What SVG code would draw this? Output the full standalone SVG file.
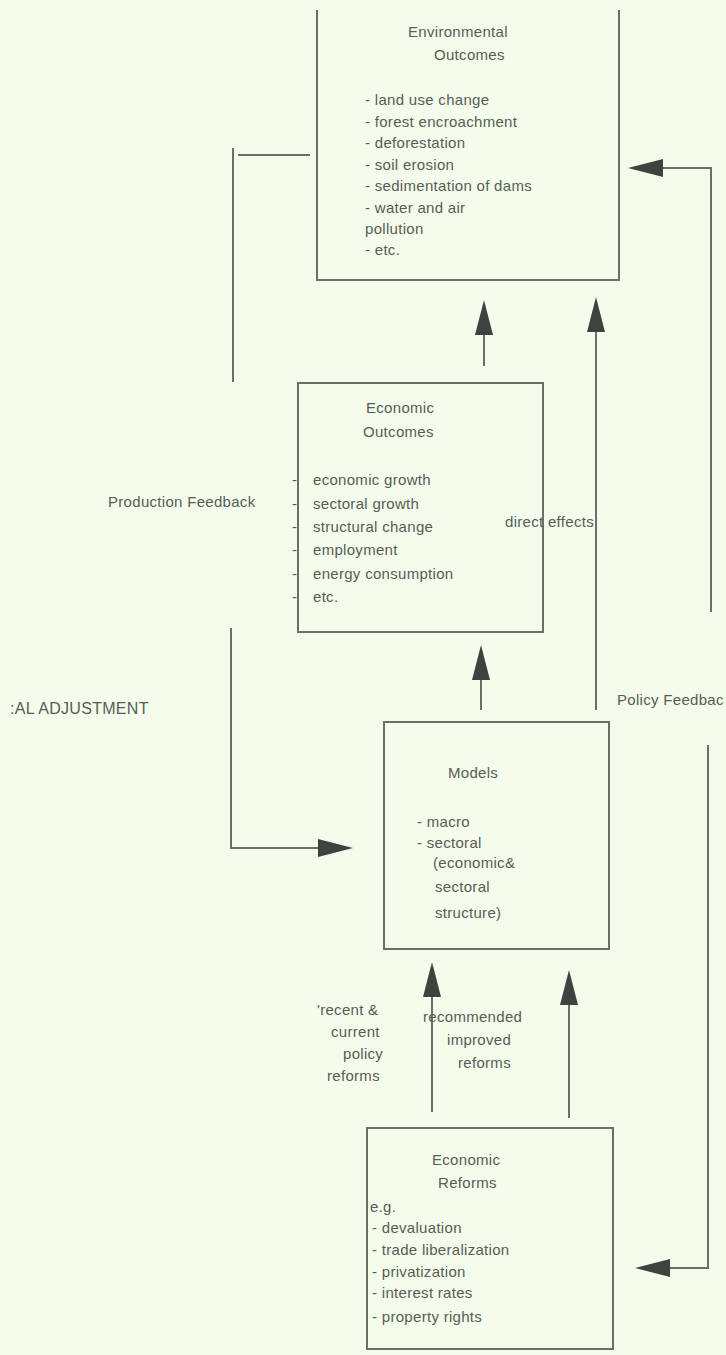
<svg xmlns="http://www.w3.org/2000/svg" width="726" height="1355" viewBox="0 0 726 1355">
<defs>
<style>
.bg{fill:#f4fcec}
.box{fill:none;stroke:#6b6f68;stroke-width:2}
.ln{fill:none;stroke:#6b6f68;stroke-width:2}
text{font-family:"Liberation Sans",Arial,sans-serif;font-size:15px;fill:#595c55;letter-spacing:0.3px}
.big{font-size:16px}
</style>
<marker id="ah" markerUnits="userSpaceOnUse" markerWidth="40" markerHeight="20" viewBox="0 -10 40 20" refX="0" refY="0" orient="auto" overflow="visible">
<path d="M0,-9 L35,0 L0,9 z" fill="#3f433f"/>
</marker>
</defs>
<rect class="bg" x="0" y="0" width="726" height="1355"/>

<g id="connectors">
<path class="ln" d="M484,366 V335" marker-end="url(#ah)"/>
<path class="ln" d="M481,710 V680" marker-end="url(#ah)"/>
<path class="ln" d="M596,710 V332" marker-end="url(#ah)"/>
<path class="ln" d="M711,612 V168 H663" marker-end="url(#ah)"/>
<path class="ln" d="M708,745 V1268 H670" marker-end="url(#ah)"/>
<path class="ln" d="M233,382 V148"/>
<path class="ln" d="M238,155 H310"/>
<path class="ln" d="M231,628 V848 H318" marker-end="url(#ah)"/>
<path class="ln" d="M432,1112 V997" marker-end="url(#ah)"/>
<path class="ln" d="M569,1118 V1005" marker-end="url(#ah)"/>
</g>

<g id="env">
<path class="box" d="M317,10 V280 H619 V10"/>
<text x="408" y="37">Environmental</text>
<text x="434" y="60">Outcomes</text>
<text x="365" y="105">- land use change</text>
<text x="365" y="127">- forest encroachment</text>
<text x="365" y="148">- deforestation</text>
<text x="365" y="170">- soil erosion</text>
<text x="365" y="191">- sedimentation of dams</text>
<text x="365" y="213">- water and air</text>
<text x="365" y="234">pollution</text>
<text x="365" y="255">- etc.</text>
</g>

<g id="econ">
<rect class="box" x="298" y="383" width="245" height="249"/>
<text x="366" y="413">Economic</text>
<text x="363" y="437">Outcomes</text>
<text x="292" y="485">-</text><text x="313" y="485">economic growth</text>
<text x="292" y="509">-</text><text x="313" y="509">sectoral growth</text>
<text x="292" y="532">-</text><text x="313" y="532">structural change</text>
<text x="292" y="555">-</text><text x="313" y="555">employment</text>
<text x="292" y="579">-</text><text x="313" y="579">energy consumption</text>
<text x="292" y="602">-</text><text x="313" y="602">etc.</text>
</g>

<g id="models">
<rect class="box" x="384" y="722" width="225" height="227"/>
<text x="448" y="778">Models</text>
<text x="417" y="827">- macro</text>
<text x="417" y="848">- sectoral</text>
<text x="433" y="868">(economic&amp;</text>
<text x="435" y="892">sectoral</text>
<text x="435" y="918">structure)</text>
</g>

<g id="reforms">
<rect class="box" x="367" y="1128" width="246" height="221"/>
<text x="432" y="1165">Economic</text>
<text x="438" y="1188">Reforms</text>
<text x="370" y="1212">e.g.</text>
<text x="372" y="1233">- devaluation</text>
<text x="372" y="1255">- trade liberalization</text>
<text x="372" y="1277">- privatization</text>
<text x="372" y="1298">- interest rates</text>
<text x="372" y="1322">- property rights</text>
</g>

<g id="labels">
<text x="108" y="507">Production Feedback</text>
<text x="505" y="527">direct effects</text>
<text class="big" x="10" y="714">:AL ADJUSTMENT</text>
<text x="617" y="705">Policy Feedbac</text>
<text x="317" y="1015">'recent &amp;</text>
<text x="331" y="1037">current</text>
<text x="343" y="1059">policy</text>
<text x="327" y="1081">reforms</text>
<text x="423" y="1022">recommended</text>
<text x="447" y="1045">improved</text>
<text x="458" y="1068">reforms</text>
</g>
</svg>
